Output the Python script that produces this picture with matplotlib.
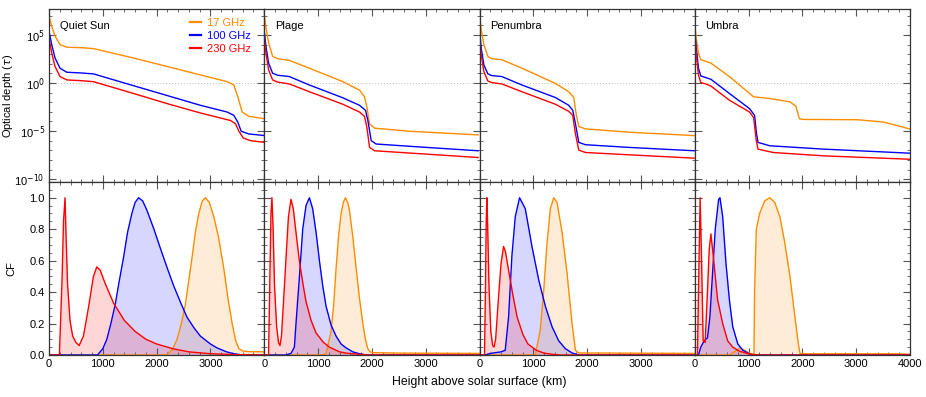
import numpy as np
import matplotlib
matplotlib.use('Agg')
import matplotlib.pyplot as plt
from matplotlib.ticker import MultipleLocator, FixedLocator, FuncFormatter, NullFormatter

plt.rcParams['font.family'] = ['Liberation Sans', 'DejaVu Sans']
plt.rcParams['font.size'] = 8

# --- data ------------------------------------------------------------------
regions = ['Quiet Sun', 'Plage', 'Penumbra', 'Umbra']
freqs = ['17 GHz', '100 GHz', '230 GHz']
colors = ['#ff8c00', '#0000ff', '#ff0000']

# optical depth: heights (km) and log10(tau)
tau_h = {
    'Quiet Sun': [
        [0, 50, 112, 205, 330, 578, 826, 1571, 2193, 2814, 3311, 3435, 3509, 3590, 3714, 4012],
        [0, 50, 112, 205, 330, 578, 826, 1571, 2193, 2814, 3311, 3435, 3509, 3571, 3714, 4012],
        [0, 50, 112, 205, 330, 578, 826, 1571, 2193, 2814, 3373, 3466, 3528, 3609, 3745, 4012]],
    'Plage': [
        [0, 31, 81, 155, 248, 466, 839, 1460, 1770, 1863, 1907, 1957, 2050, 2702, 3975],
        [0, 31, 81, 155, 248, 466, 839, 1460, 1770, 1882, 1925, 1988, 2081, 3012, 3975],
        [0, 31, 81, 155, 248, 466, 839, 1460, 1770, 1863, 1907, 1957, 2050, 3012, 3975]],
    'Penumbra': [
        [0, 31, 81, 155, 230, 416, 789, 1410, 1658, 1752, 1795, 1845, 1969, 2776, 3988],
        [0, 31, 81, 155, 230, 416, 789, 1410, 1658, 1733, 1783, 1845, 1969, 2776, 3988],
        [0, 31, 81, 155, 230, 416, 789, 1410, 1658, 1733, 1783, 1845, 1969, 2776, 3988]],
    'Umbra': [
        [0, 31, 69, 112, 206, 300, 644, 1094, 1394, 1769, 1881, 1944, 2019, 3019, 3519, 3988],
        [0, 31, 69, 112, 206, 300, 644, 1019, 1112, 1144, 1175, 1394, 2394, 3988],
        [0, 31, 69, 112, 206, 300, 644, 1019, 1094, 1144, 1175, 1456, 2394, 3988]],
}
tau_log = {
    'Quiet Sun': [
        [6.98, 5.93, 4.88, 4.0, 3.72, 3.68, 3.58, 2.6, 1.72, 0.84, 0.14, -0.21, -1.44, -3.02, -3.47, -3.72],
        [5.4, 4.0, 2.6, 1.54, 1.12, 1.05, 0.95, -0.28, -1.3, -2.32, -3.02, -3.37, -4.07, -5.02, -5.3, -5.47],
        [4.7, 3.12, 1.72, 0.67, 0.32, 0.25, 0.14, -1.09, -2.14, -3.12, -3.9, -4.25, -5.0, -5.72, -6.0, -6.18]],
    'Plage': [
        [7.16, 5.75, 4.18, 2.77, 2.53, 2.35, 1.54, 0.14, -0.74, -1.44, -2.49, -4.25, -4.7, -5.02, -5.4],
        [5.4, 3.82, 2.07, 1.02, 0.81, 0.67, -0.21, -1.54, -2.32, -2.84, -3.9, -6.0, -6.35, -6.7, -7.05],
        [4.88, 3.12, 1.37, 0.32, 0.1, -0.1, -0.91, -2.21, -3.02, -3.47, -4.6, -6.7, -7.05, -7.4, -7.75]],
    'Penumbra': [
        [7.16, 5.58, 4.0, 2.77, 2.53, 2.42, 1.54, -0.04, -0.91, -1.51, -3.2, -4.53, -4.77, -5.12, -5.47],
        [5.58, 3.65, 1.89, 0.95, 0.77, 0.67, -0.21, -1.51, -2.32, -2.84, -4.25, -6.18, -6.42, -6.7, -7.05],
        [4.88, 2.95, 1.19, 0.21, 0.04, -0.1, -0.91, -2.21, -2.95, -3.37, -5.3, -6.98, -7.23, -7.47, -7.82]],
    'Umbra': [
        [6.1, 4.53, 3.12, 2.42, 2.25, 2.07, 0.67, -1.44, -1.61, -1.96, -2.42, -3.72, -3.79, -3.82, -4.07, -4.77],
        [5.4, 3.47, 1.54, 0.74, 0.56, 0.39, -1.09, -2.67, -3.37, -5.12, -6.18, -6.53, -6.88, -7.3],
        [5.05, 2.77, 0.84, 0.04, -0.1, -0.32, -1.79, -3.02, -3.61, -6.0, -6.88, -7.23, -7.58, -7.93]],
}

# contribution functions: heights (km) and CF
cf_h = {
    'Quiet Sun': [
        [0, 2190, 2300, 2380, 2460, 2534, 2600, 2658, 2720, 2783, 2850, 2907, 2980, 3062, 3150, 3248, 3330, 3404, 3470, 3528, 3600, 3700, 4000],
        [0, 900, 1000, 1075, 1150, 1230, 1300, 1385, 1460, 1540, 1600, 1665, 1740, 1820, 1950, 2068, 2200, 2317, 2450, 2565, 2700, 2814, 3000, 3124, 3300, 3435, 3600, 4000],
        [0, 193, 240, 270, 298, 320, 345, 390, 440, 500, 560, 640, 733, 826, 888, 950, 1050, 1200, 1400, 1600, 1800, 2000, 2300, 2600, 3000, 3500, 4000]],
    'Plage': [
        [0, 1100, 1149, 1242, 1290, 1335, 1380, 1428, 1470, 1509, 1550, 1584, 1646, 1708, 1770, 1832, 1880, 1925, 1970, 2018, 2500, 4000],
        [0, 400, 497, 560, 590, 652, 715, 776, 839, 900, 963, 1025, 1087, 1149, 1242, 1335, 1428, 1522, 1646, 1770, 1900, 4000],
        [0, 80, 100, 125, 143, 165, 190, 230, 265, 292, 320, 360, 410, 450, 497, 540, 600, 652, 720, 776, 870, 963, 1100, 1211, 1400, 1522, 1800, 2000, 4000]],
    'Penumbra': [
        [0, 1037, 1130, 1193, 1255, 1317, 1379, 1441, 1534, 1627, 1720, 1783, 1845, 4000],
        [0, 100, 200, 400, 478, 540, 602, 665, 745, 851, 975, 1099, 1224, 1348, 1472, 1596, 1720, 1850, 4000],
        [0, 93, 110, 125, 137, 150, 175, 210, 245, 270, 300, 350, 400, 447, 480, 560, 621, 700, 807, 900, 1056, 1200, 1366, 1500, 4000]],
    'Umbra': [
        [0, 644, 769, 844, 925, 1050, 1100, 1112, 1144, 1206, 1300, 1394, 1487, 1581, 1675, 1769, 1862, 1925, 1956, 2100, 3700, 4000],
        [0, 69, 112, 175, 237, 281, 331, 381, 444, 469, 519, 581, 644, 706, 800, 894, 1019, 1112, 4000],
        [0, 50, 81, 100, 125, 156, 194, 237, 269, 300, 344, 425, 519, 612, 706, 831, 1019, 1200, 4000]],
}
cf_val = {
    'Quiet Sun': [
        [0, 0, 0.04, 0.1, 0.2, 0.32, 0.48, 0.62, 0.78, 0.9, 0.98, 1.0, 0.97, 0.88, 0.75, 0.55, 0.35, 0.2, 0.09, 0.04, 0.025, 0.022, 0.02],
        [0, 0, 0.04, 0.1, 0.2, 0.32, 0.46, 0.62, 0.78, 0.9, 0.97, 1.0, 0.98, 0.92, 0.8, 0.68, 0.55, 0.44, 0.33, 0.24, 0.17, 0.12, 0.07, 0.045, 0.02, 0.008, 0.0, 0.0],
        [0, 0, 0.45, 0.85, 1.0, 0.72, 0.45, 0.22, 0.12, 0.08, 0.06, 0.12, 0.3, 0.5, 0.56, 0.54, 0.45, 0.33, 0.22, 0.15, 0.1, 0.07, 0.04, 0.02, 0.008, 0.002, 0.0]],
    'Plage': [
        [0, 0, 0.01, 0.15, 0.32, 0.55, 0.75, 0.9, 0.97, 1.0, 0.97, 0.92, 0.75, 0.55, 0.36, 0.2, 0.1, 0.04, 0.02, 0.015, 0.012, 0.01],
        [0, 0, 0.01, 0.05, 0.2, 0.49, 0.8, 0.95, 1.0, 0.93, 0.78, 0.6, 0.44, 0.31, 0.19, 0.12, 0.07, 0.045, 0.02, 0.008, 0.0, 0.0],
        [0, 0, 0.4, 0.9, 1.0, 0.8, 0.45, 0.18, 0.08, 0.06, 0.12, 0.35, 0.65, 0.88, 0.99, 0.93, 0.75, 0.6, 0.45, 0.34, 0.22, 0.14, 0.08, 0.05, 0.02, 0.012, 0.003, 0.0, 0.0]],
    'Penumbra': [
        [0, 0, 0.16, 0.41, 0.71, 0.93, 1.0, 0.97, 0.78, 0.52, 0.2, 0.03, 0.013, 0.01],
        [0, 0, 0.01, 0.02, 0.03, 0.24, 0.63, 0.88, 1.0, 0.93, 0.69, 0.48, 0.31, 0.18, 0.09, 0.04, 0.013, 0.0, 0.0],
        [0, 0, 0.4, 0.85, 1.0, 0.85, 0.45, 0.15, 0.06, 0.05, 0.1, 0.35, 0.58, 0.69, 0.66, 0.5, 0.38, 0.24, 0.13, 0.07, 0.03, 0.012, 0.004, 0.0, 0.0]],
    'Umbra': [
        [0, 0, 0.028, 0.045, 0.03, 0.006, 0.0, 0.41, 0.8, 0.9, 0.98, 1.0, 0.97, 0.88, 0.71, 0.5, 0.24, 0.07, 0.01, 0.008, 0.008, 0.005],
        [0, 0, 0.05, 0.09, 0.11, 0.24, 0.52, 0.8, 0.99, 1.0, 0.88, 0.58, 0.35, 0.18, 0.07, 0.03, 0.006, 0.0, 0.0],
        [0, 0, 0.63, 1.0, 0.63, 0.09, 0.08, 0.41, 0.67, 0.77, 0.63, 0.35, 0.2, 0.09, 0.05, 0.024, 0.006, 0.0, 0.0]],
}

# --- figure ----------------------------------------------------------------
fig = plt.figure(figsize=(9.26, 3.97), dpi=100)
gs = fig.add_gridspec(2, 4, left=49/926, right=910/926, top=1-9/397, bottom=1-355/397,
                      wspace=0, hspace=0)

spine_col = '#333333'
tick_col = '#555555'


def style(ax):
    ax.tick_params(which='both', direction='in', top=True, right=True,
                   color=tick_col, labelsize=8, pad=3)
    ax.tick_params(which='major', length=5, width=0.8)
    ax.tick_params(which='minor', length=2.5, width=0.6)
    for s in ax.spines.values():
        s.set_color(spine_col)
        s.set_linewidth(0.9)


pow_fmt = FuncFormatter(lambda v, p: r'10$^{%d}$' % round(np.log10(v)))

for j, reg in enumerate(regions):
    ax = fig.add_subplot(gs[0, j])
    ax2 = fig.add_subplot(gs[1, j])
    for k in range(3):
        ax.plot(tau_h[reg][k], 10.0 ** np.array(tau_log[reg][k]), color=colors[k],
                lw=1.0, label=freqs[k])
        ax2.fill_between(cf_h[reg][k], cf_val[reg][k], color=colors[k], alpha=0.16, lw=0)
        ax2.plot(cf_h[reg][k], cf_val[reg][k], color=colors[k], lw=1.0)
    ax.axhline(1.0, color='#bbbbbb', ls=(0, (1, 2)), lw=0.7, zorder=0)

    ax.set_yscale('log')
    ax.set_ylim(10 ** -10.3, 10 ** 7.7)
    ax.yaxis.set_major_locator(FixedLocator([1e-10, 1e-5, 1e0, 1e5]))
    ax.yaxis.set_minor_locator(FixedLocator([10.0 ** e for e in range(-10, 8)]))
    ax.yaxis.set_major_formatter(pow_fmt)
    ax.yaxis.set_minor_formatter(NullFormatter())
    ax2.set_ylim(0, 1.1)
    ax2.yaxis.set_major_locator(MultipleLocator(0.2))
    ax2.yaxis.set_minor_locator(MultipleLocator(0.05))
    ax2.yaxis.set_major_formatter(FuncFormatter(lambda v, p: '%.1f' % v))

    for a in (ax, ax2):
        a.set_xlim(0, 4000)
        a.xaxis.set_major_locator(MultipleLocator(1000))
        a.xaxis.set_minor_locator(MultipleLocator(200))
        style(a)
    ax.tick_params(which='both', labelbottom=False)
    if j > 0:
        ax.tick_params(which='both', labelleft=False)
        ax2.tick_params(which='both', labelleft=False)
    if j < 3:
        ax2.xaxis.set_major_formatter(FuncFormatter(lambda v, p: '' if v >= 4000 else '%d' % v))
    else:
        ax2.xaxis.set_major_formatter(FuncFormatter(lambda v, p: '%d' % v))

    ax.text(0.05, 0.93, reg, transform=ax.transAxes, fontsize=8, va='top', ha='left')

    if j == 0:
        ax.set_ylabel(r'Optical depth ($\tau$)', fontsize=8)
        ax.yaxis.set_label_coords(-0.158, 0.5)
        ax2.set_ylabel('CF', fontsize=8)
        ax2.yaxis.set_label_coords(-0.15, 0.5)
        leg = ax.legend(loc='upper left', bbox_to_anchor=(0.62, 0.995), frameon=False,
                        handlelength=1.0, handletextpad=0.5, labelspacing=0.3,
                        fontsize=8, labelcolor='linecolor', borderaxespad=0.3)
        for ln in leg.get_lines():
            ln.set_linewidth(1.6)

fig.text((49 + 910) / 2 / 926, 1 - 382 / 397, 'Height above solar surface (km)',
         ha='center', va='center', fontsize=8.8)

fig.savefig('out.png', dpi=100)
